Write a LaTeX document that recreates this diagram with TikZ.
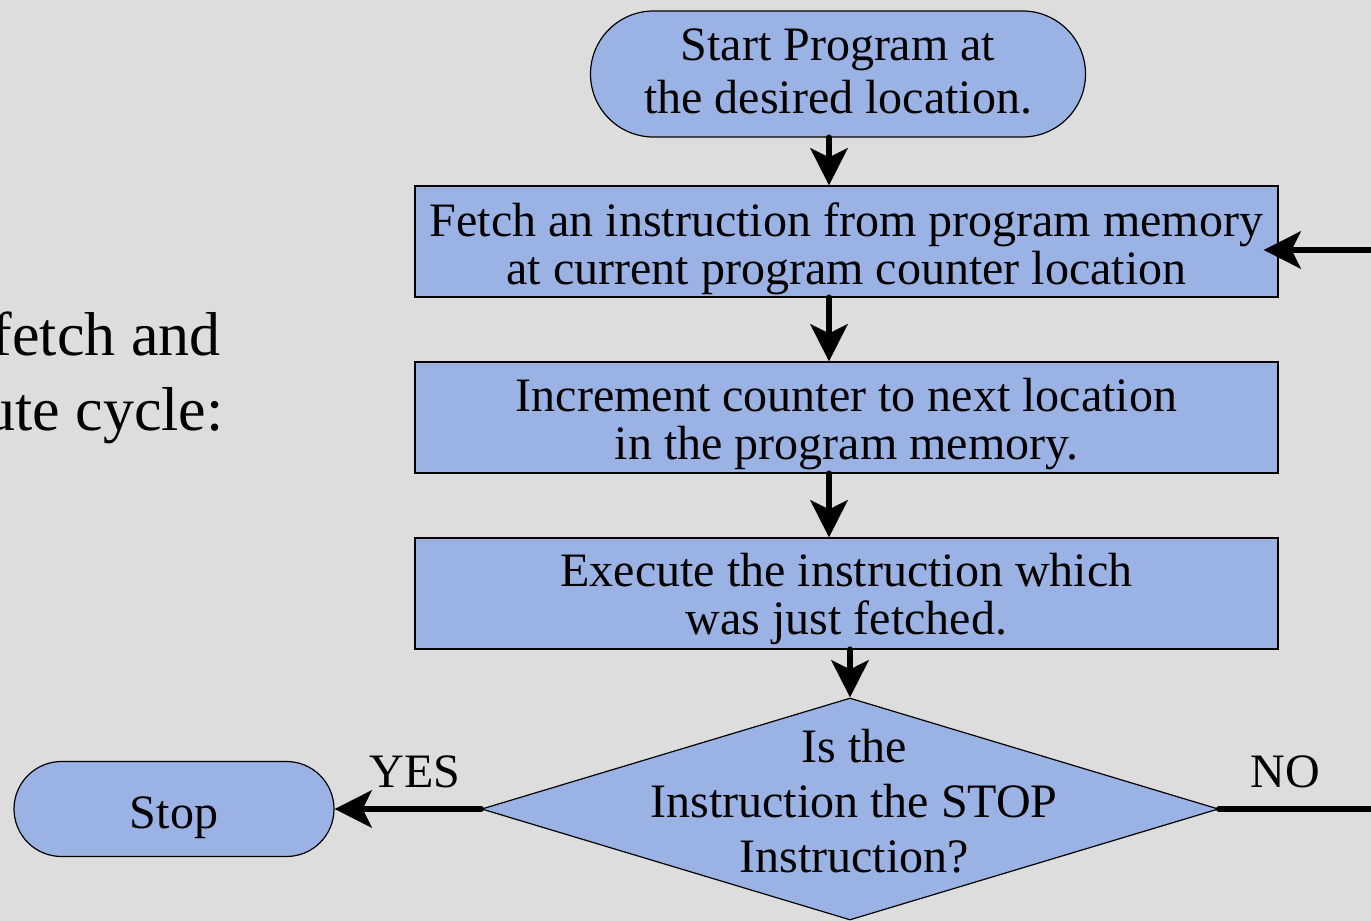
\documentclass[tikz,border=0pt]{standalone}
\usepackage{fontspec}
\setmainfont{Liberation Serif}
\usetikzlibrary{shapes.misc,shapes.geometric,arrows.meta}
\definecolor{boxblue}{RGB}{155,179,228}
\definecolor{bggray}{RGB}{221,221,221}
\newcommand\topgap[1]{\rule{0pt}{#1}}
\newcommand\botgap[1]{\rule[-#1]{0pt}{#1}}
\begin{document}
\begin{tikzpicture}[x=0.5pt,y=-0.5pt,
  box/.style={draw=black, line width=0.6pt, fill=boxblue, minimum width=431.5pt, minimum height=55.5pt, inner sep=0pt, align=center, font=\fontsize{24}{24}\selectfont},
  pill/.style={draw=black, line width=0.6pt, fill=boxblue, rounded rectangle, inner sep=0pt, align=center},
  decision/.style={draw=black, line width=0.6pt, diamond, fill=boxblue, minimum width=368.5pt, minimum height=111pt, inner sep=0pt},
  arr/.style={line width=3.2pt, line cap=round, -{Stealth[length=18.5pt,width=18.5pt,inset=4.5pt]}},
  lbl/.style={font=\fontsize{24}{24}\selectfont},
  ttl/.style={font=\fontsize{31}{37}\selectfont, anchor=base east, inner sep=0pt}
]
\fill[bggray] (0,0) rectangle (1371,921);
\useasboundingbox (0,0) rectangle (1371,921);

% left title text (cut off by the page edge)
\node[ttl] (title1) at (221,355) {fetch and};
\node[ttl] (title2) at (224,430) {ute cycle:};

% flowchart nodes
\node[pill, minimum width=247.5pt, minimum height=63pt, font=\fontsize{24}{26.5}\selectfont] (start) at (838,74) {Start Program at\\the desired location.\botgap{3pt}};
\node[box] (fetch) at (846.5,241.5) {\topgap{24.4pt}Fetch an instruction from program memory\\at current program counter location};
\node[box] (incr) at (846.5,417.5) {\topgap{23.4pt}Increment counter to next location\\in the program memory.};
\node[box] (exec) at (846.5,593.5) {\topgap{22.4pt}Execute the instruction which\\was just fetched.};
\node[decision] (dec) at (850,809) {};
\node[align=center, font=\fontsize{24}{27.5}\selectfont, inner sep=0pt] (dectext) at (854,801) {Is the\\Instruction the STOP\\Instruction?};
\node[pill, minimum width=160pt, minimum height=47.5pt, font=\fontsize{24}{24}\selectfont] (stop) at (174,809) {\topgap{24.2pt}Stop};

% connectors
\coordinate (ax) at (829,0);
\coordinate (loop) at (1374,250);
\draw[arr] (start.south -| ax) -- (fetch.north -| ax);
\draw[arr] (fetch.south -| ax) -- (incr.north -| ax);
\draw[arr] (incr.south -| ax) -- (exec.north -| ax);
\draw[arr] (exec.south -| dec.north) -- (dec.north);
\draw[arr] (dec.west) -- (stop.east);
\draw[arr] (dec.east) -| (loop) -- ([xshift=-7.5pt]loop -| fetch.east);

% labels
\node[lbl] (yes) at (415,772) {YES};
\node[lbl] (no) at (1285,772) {NO};
\end{tikzpicture}
\end{document}
